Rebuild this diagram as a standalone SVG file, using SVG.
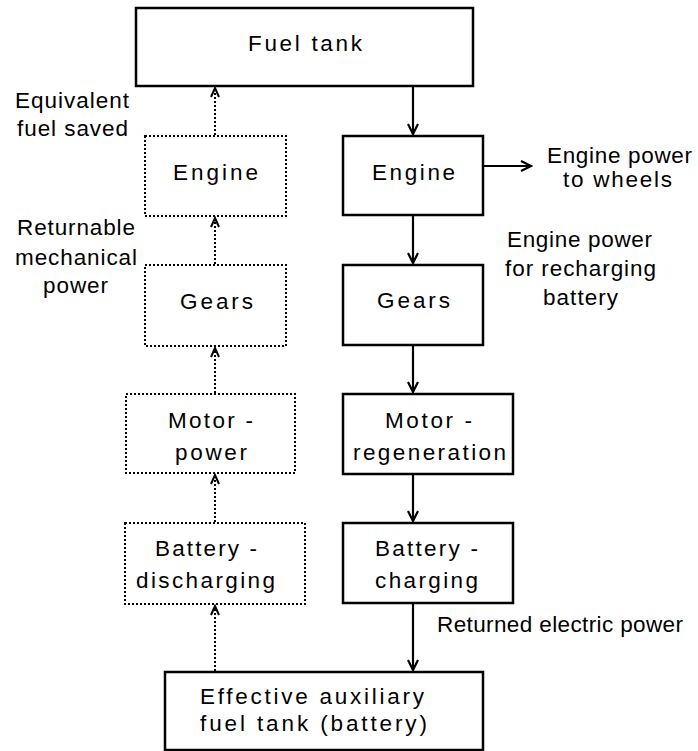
<svg xmlns="http://www.w3.org/2000/svg" width="698" height="751" viewBox="0 0 698 751">
<style>
.box{fill:#fff;stroke:#000;stroke-width:2.5}
.dbox{fill:#fff;stroke:#000;stroke-width:2;stroke-dasharray:2 2}
.line{fill:none;stroke:#000;stroke-width:2.2}
.dline{fill:none;stroke:#000;stroke-width:2;stroke-dasharray:2 2}
text{font-family:"Liberation Sans",Arial,sans-serif;font-size:22.5px;fill:#000}
</style>
<defs>
<marker id="ah" markerUnits="userSpaceOnUse" markerWidth="14" markerHeight="14" viewBox="-12 -7 14 14" refX="0" refY="0" orient="auto">
<path d="M-10,-5 L0,0 L-10,5" fill="none" stroke="#000" stroke-width="2.2"/>
</marker>
<marker id="dah" markerUnits="userSpaceOnUse" markerWidth="14" markerHeight="14" viewBox="-12 -7 14 14" refX="0" refY="0" orient="auto">
<path d="M-9,-4 L0,0 L-9,4" fill="none" stroke="#000" stroke-width="2"/>
</marker>
</defs>
<rect width="698" height="751" fill="#fff"/>
<g id="connectors">
<path class="line" d="M413,87 V134" marker-end="url(#ah)"/>
<path class="line" d="M413,216 V263" marker-end="url(#ah)"/>
<path class="line" d="M413,346 V392" marker-end="url(#ah)"/>
<path class="line" d="M413,475 V521" marker-end="url(#ah)"/>
<path class="line" d="M413,604 V670" marker-end="url(#ah)"/>
<path class="line" d="M484,166 H531" marker-end="url(#ah)"/>
<path class="dline" d="M215,135 V88" marker-end="url(#dah)"/>
<path class="dline" d="M215,264 V218" marker-end="url(#dah)"/>
<path class="dline" d="M215,393 V348" marker-end="url(#dah)"/>
<path class="dline" d="M215,522 V475" marker-end="url(#dah)"/>
<path class="dline" d="M215,671 V606" marker-end="url(#dah)"/>
</g>
<g id="fuel-tank"><rect class="box" x="136" y="8" width="337" height="78"/><text x="248" y="51" textLength="114">Fuel tank</text></g>
<g id="engine-left"><rect class="dbox" x="145" y="136" width="141" height="80"/><text x="173" y="180" textLength="85">Engine</text></g>
<g id="engine-right"><rect class="box" x="343" y="136" width="140" height="79"/><text x="372" y="180" textLength="83">Engine</text></g>
<g id="gears-left"><rect class="dbox" x="145" y="265" width="141" height="81"/><text x="180" y="309" textLength="73">Gears</text></g>
<g id="gears-right"><rect class="box" x="343" y="265" width="140" height="80"/><text x="377" y="308" textLength="73">Gears</text></g>
<g id="motor-power"><rect class="dbox" x="126" y="394" width="169" height="79"/><text x="168" y="428" textLength="85">Motor -</text><text x="175" y="460" textLength="72">power</text></g>
<g id="motor-regeneration"><rect class="box" x="343" y="394" width="170" height="80"/><text x="385" y="428" textLength="87">Motor -</text><text x="353" y="460" textLength="153">regeneration</text></g>
<g id="battery-discharging"><rect class="dbox" x="125" y="523" width="180" height="81"/><text x="155" y="556" textLength="102">Battery -</text><text x="136" y="588" textLength="139">discharging</text></g>
<g id="battery-charging"><rect class="box" x="343" y="523" width="170" height="80"/><text x="375" y="556" textLength="103">Battery -</text><text x="375" y="588" textLength="103">charging</text></g>
<g id="auxiliary-tank"><rect class="box" x="165" y="672" width="318" height="78"/><text x="200" y="704" textLength="224">Effective auxiliary</text><text x="200" y="731" textLength="227">fuel tank (battery)</text></g>
<g id="labels">
<text x="15" y="108" textLength="114">Equivalent</text>
<text x="17" y="136" textLength="111">fuel saved</text>
<text x="17" y="235" textLength="118">Returnable</text>
<text x="15" y="265" textLength="122">mechanical</text>
<text x="43" y="293" textLength="65">power</text>
<text x="547" y="163" textLength="145">Engine power</text>
<text x="563" y="187" textLength="109">to wheels</text>
<text x="507" y="247" textLength="145">Engine power</text>
<text x="505" y="276" textLength="151">for recharging</text>
<text x="543" y="305" textLength="75">battery</text>
<text x="437" y="632" textLength="246">Returned electric power</text>
</g>
</svg>
